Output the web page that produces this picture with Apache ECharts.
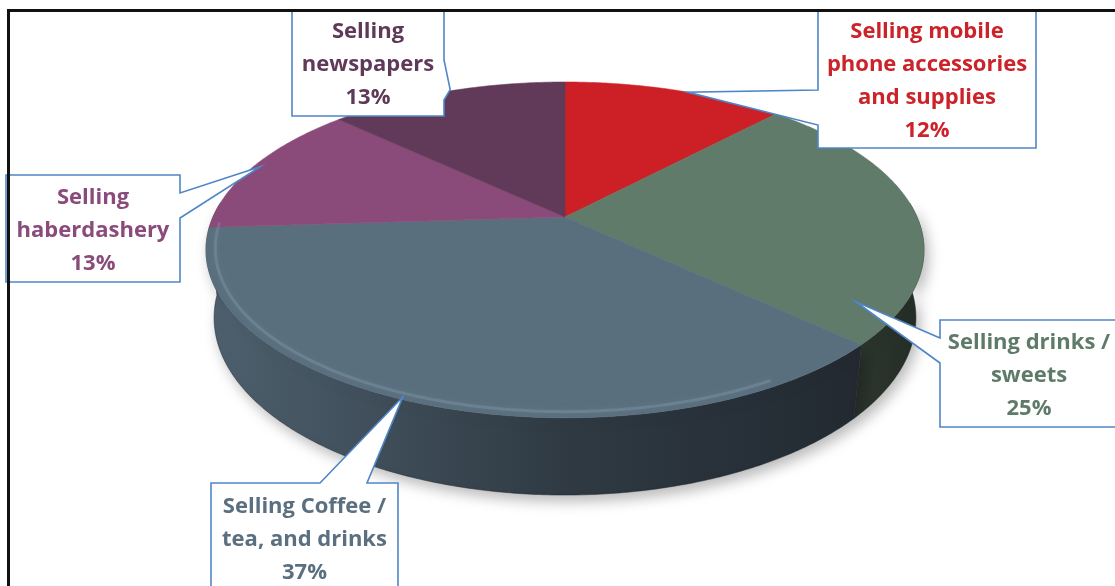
<!DOCTYPE html>
<html>
<head>
<meta charset="utf-8">
<title>Business activities</title>
<script src="https://cdn.jsdelivr.net/npm/echarts@6/dist/echarts.min.js"></script>
<style>
  html, body { margin: 0; padding: 0; background: #ffffff; }
  #chart { width: 1115px; height: 586px; }
</style>
</head>
<body>
<div id="chart"></div>
<script>
// Activity labels (line breaks as shown in the callouts) and their shares in percent
const categories = [
  'Selling mobile\nphone accessories\nand supplies',
  'Selling drinks /\nsweets',
  'Selling Coffee /\ntea, and drinks',
  'Selling\nhaberdashery',
  'Selling\nnewspapers'
];
const shares = [12, 25, 37, 13, 13];

// Slice colours: top face, side wall (left -> right shade), label text
const topColors  = ['#cd2026', '#607b69', '#5a6f7e', '#8a4b7b', '#623a59'];
const wallColors = [['#9a1a1e', '#6e1013'], ['#2e382f', '#242c26'], ['#4e606e', '#222931'], ['#633859', '#4a2843'], ['#4a2c43', '#371f32']];
const textColors = ['#cc2229', '#5e7b6a', '#5a6f80', '#8a4b7b', '#5f3a58'];

// Callout boxes: rectangle [x0, y0, x1, y1], the side the pointer leaves from,
// where the pointer meets that side, and the pointer tip as
// [fraction of the slice's sweep, fraction of the radius]
const callouts = [
  { box: [818, 10, 1036, 148], side: 'left',  base: [90, 125],  tip: [0.56, 1.0] },
  { box: [940, 320, 1118, 427], side: 'left', base: [338, 363], tip: [0.88, 0.886] },
  { box: [211, 483, 398, 593], side: 'top',   base: [320, 367], tip: [0.52, 0.99] },
  { box: [6, 175, 180, 282],   side: 'right', base: [193, 218], tip: [0.50, 0.98] },
  { box: [292, 10, 444, 116],  side: 'right', base: [60, 100],  tip: [0.52, 1.01] }
];

const TOTAL = shares.reduce((a, b) => a + b, 0);
let acc = 0;
const sliceData = shares.map(v => { const d = [acc, v]; acc += v; return d; });

// Perspective view of a tilted disc (radius 1, thickness VIEW.depth)
const VIEW = { cx: 565, cy: 217, focal: 1594.6, dist: 4.53, tilt: 27.3 * Math.PI / 180, depth: 0.218 };
const sinT = Math.sin(VIEW.tilt), cosT = Math.cos(VIEW.tilt);

// theta: clockwise from 12 o'clock; r: radius fraction; h: 0 = top face, 1 = bottom face
function project(theta, r, h) {
  const x = r * Math.sin(theta);
  const z = -r * Math.cos(theta);
  const y = -h * VIEW.depth;
  const d = VIEW.dist - y * sinT - z * cosT;
  return [VIEW.cx + VIEW.focal * x / d, VIEW.cy - VIEW.focal * (y * cosT - z * sinT) / d];
}

function arcPoints(a0, a1, r, h, reverse) {
  const pts = [];
  const n = Math.max(8, Math.ceil((a1 - a0) / 0.01));
  for (let k = 0; k <= n; k++) {
    const t = reverse ? (n - k) / n : k / n;
    pts.push(project(a0 + (a1 - a0) * t, r, h));
  }
  return pts;
}

function sliceAngles(api) {
  const a0 = api.value(0) / TOTAL * Math.PI * 2;
  const a1 = (api.value(0) + api.value(1)) / TOTAL * Math.PI * 2;
  return [a0, a1];
}

const DEG = Math.PI / 180;

function renderWall(params, api) {
  const [a0, a1] = sliceAngles(api);
  const lo = Math.max(a0, 85 * DEG), hi = Math.min(a1, 275 * DEG);
  if (hi <= lo) return null;
  const pts = arcPoints(lo, hi, 1, 0, false).concat(arcPoints(lo, hi, 1, 1, true));
  const c = wallColors[params.dataIndex];
  const grad = new echarts.graphic.LinearGradient(0, 0, 1, 0, [
    { offset: 0, color: c[0] },
    { offset: 0.55, color: echarts.color.lerp(0.7, c) },
    { offset: 1, color: c[1] }
  ]);
  return {
    type: 'polygon',
    shape: { points: pts },
    style: {
      fill: grad,
      stroke: c[1],
      lineWidth: 0.5,
      shadowColor: 'rgba(0,0,0,0.28)',
      shadowBlur: 14,
      shadowOffsetX: 4,
      shadowOffsetY: 6
    }
  };
}

function renderTop(params, api) {
  const i = params.dataIndex;
  const [a0, a1] = sliceAngles(api);
  const pts = [project(0, 0, 0)].concat(arcPoints(a0, a1, 1, 0, false));
  const children = [{
    type: 'polygon',
    shape: { points: pts },
    style: { fill: topColors[i], stroke: topColors[i], lineWidth: 0.6 }
  }];
  // soft bevel: faint light rim along the front-left edge
  const hl0 = Math.max(a0, 150 * DEG), hl1 = Math.min(a1, 268 * DEG);
  if (hl1 > hl0) {
    children.push({
      type: 'polyline',
      shape: { points: arcPoints(hl0, hl1, 0.975, 0, false) },
      style: { fill: null, stroke: 'rgba(160,185,205,0.22)', lineWidth: 3, shadowBlur: 6, shadowColor: 'rgba(160,185,205,0.5)' }
    });
  }
  return { type: 'group', children: children };
}

function renderCallout(params, api) {
  const i = params.dataIndex;
  const c = callouts[i];
  const [a0, a1] = sliceAngles(api);
  const tip = project(a0 + (a1 - a0) * c.tip[0], c.tip[1], 0);
  const [x0, y0, x1, y1] = c.box;
  const [b0, b1] = c.base;
  let pts;
  if (c.side === 'left') {
    pts = [[x0, y0], [x1, y0], [x1, y1], [x0, y1], [x0, b1], tip, [x0, b0]];
  } else if (c.side === 'right') {
    pts = [[x0, y0], [x1, y0], [x1, b0], tip, [x1, b1], [x1, y1], [x0, y1]];
  } else {
    pts = [[x0, y0], [b0, y0], tip, [b1, y0], [x1, y0], [x1, y1], [x0, y1]];
  }
  return {
    type: 'group',
    children: [
      {
        type: 'polygon',
        shape: { points: pts },
        style: { fill: '#ffffff', stroke: '#4f86c6', lineWidth: 1.6, lineJoin: 'miter' }
      },
      {
        type: 'text',
        style: {
          text: categories[i] + '\n' + api.value(1) + '%',
          x: (x0 + x1) / 2,
          y: (y0 + y1) / 2 + 2,
          align: 'center',
          verticalAlign: 'middle',
          fill: textColors[i],
          fontFamily: '"Open Sans"',
          fontWeight: 'bold',
          fontSize: 22,
          lineHeight: 33
        }
      }
    ]
  };
}

const chart = echarts.init(document.getElementById('chart'), null, { renderer: 'canvas' });
chart.setOption({
  backgroundColor: '#ffffff',
  animation: false,
  series: [
    { type: 'custom', coordinateSystem: 'none', silent: true, z: 1, data: sliceData, renderItem: renderWall },
    { type: 'custom', coordinateSystem: 'none', silent: true, z: 2, data: sliceData, renderItem: renderTop },
    { type: 'custom', coordinateSystem: 'none', silent: true, z: 3, data: sliceData, renderItem: renderCallout }
  ],
  graphic: [
    { type: 'rect', z: 10, shape: { x: 7, y: 9, width: 1108, height: 3 }, style: { fill: '#111111' } },
    { type: 'rect', z: 10, shape: { x: 7, y: 9, width: 3, height: 577 }, style: { fill: '#111111' } }
  ]
});
</script>
</body>
</html>
